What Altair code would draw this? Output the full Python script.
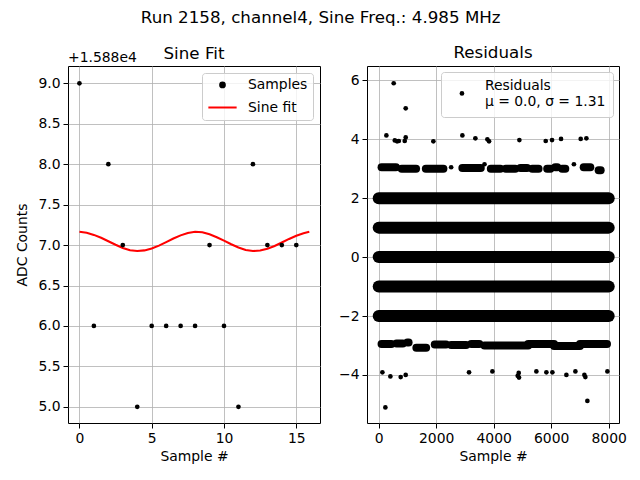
import altair as alt
import pandas as pd

FONT = "DejaVu Sans"

# ---------------- data ----------------
SUPTITLE = "Run 2158, channel4, Sine Freq.: 4.985 MHz"
OFFSET = 15880
OFFSET_LABEL = "+1.588e4"

sample_idx = list(range(16))
sample_adc = [15889, 15886, 15888, 15887, 15885, 15886, 15886, 15886,
              15886, 15887, 15886, 15885, 15888, 15887, 15887, 15887]

fit_x = [0.0, 0.5, 1.0, 1.5, 2.0, 2.5, 3.0, 3.5, 4.0, 4.5, 5.0, 5.5, 6.0, 6.5,
         7.0, 7.5, 8.0, 8.5, 9.0, 9.5, 10.0, 10.5, 11.0, 11.5, 12.0, 12.5,
         13.0, 13.5, 14.0, 14.5, 15.0, 15.5, 15.9]
fit_rel = [7.164, 7.152, 7.126, 7.090, 7.048, 7.004, 6.965, 6.936, 6.926,
           6.934, 6.958, 6.993, 7.037, 7.081, 7.120, 7.150, 7.165, 7.158,
           7.133, 7.097, 7.055, 7.010, 6.970, 6.939, 6.926, 6.932, 6.955,
           6.989, 7.032, 7.076, 7.116, 7.147, 7.164]

MU = "0.0"
SIGMA = "1.31"

# dense residual bands (integer levels, spanning all samples)
band_level = [-2, -1, 0, 1, 2]
band_start = [0, 0, 0, 0, 0]
band_end = [8000, 8000, 8000, 8000, 8000]

# sparser bands near +3 / -3 (segments of clustered samples)
seg_start = [100, 800, 1640, 2910, 3900, 4420, 4930, 5340, 5860, 6140, 6380, 7130, 7650,
             100, 620, 1000, 1310, 1950, 2520, 3220, 3680, 5200, 6100, 7000]
seg_end = [600, 1300, 2250, 3550, 4230, 4750, 5160, 5560, 5970, 6210, 6490, 7360, 7720,
           440, 840, 1040, 1650, 2340, 3040, 3500, 5200, 6100, 7000, 7940]
seg_y = [3.05, 3.0, 3.0, 3.02, 3.0, 3.0, 3.02, 3.0, 3.0, 3.05, 3.0, 3.05, 2.95,
         -2.95, -2.93, -2.9, -3.08, -2.97, -2.98, -2.95, -3.0, -2.95, -3.02, -2.95]

# isolated residual samples
res_x = [522, 939, 267, 560, 640, 700, 939, 905, 1901, 2910, 3362, 3780, 3838,
         4893, 5809, 6029, 6342, 7026, 7223, 2520, 3680, 6790,
         128, 406, 765, 939, 3142, 3954, 4835, 4870, 4880, 5484, 5832, 6041,
         6528, 6841, 7154, 7188, 7954, 232, 7258]
res_y = [5.9, 5.05, 4.13, 3.96, 3.93, 3.94, 4.06, 3.94, 3.93, 4.13, 4.03, 4.0, 3.93,
         3.97, 3.94, 3.97, 4.01, 4.01, 4.03, 3.05, 3.15, 3.15,
         -3.91, -4.05, -4.07, -4.0, -3.91, -3.88, -4.03, -3.93, -4.09, -3.88, -3.91, -3.91,
         -4.0, -3.88, -4.0, -4.07, -3.88, -5.1, -4.88]

# ---------------- tables ----------------
samples_df = pd.DataFrame({"x": sample_idx, "adc": sample_adc, "series": "Samples"})
fit_df = pd.DataFrame({"x": fit_x, "rel": fit_rel, "series": "Sine fit"})
offset_df = pd.DataFrame({"label": [OFFSET_LABEL]})
band_df = pd.DataFrame({"x0": band_start, "x1": band_end, "y": band_level})
seg_df = pd.DataFrame({"x0": seg_start, "x1": seg_end, "y": seg_y})
res_df = pd.DataFrame({"x": res_x, "y": res_y, "series": "Residuals"})

# ---------------- left panel ----------------
series_dom = ["Samples", "Sine fit"]
legend_left = alt.Legend(
    title=None, orient="top-right", offset=7,
    fillColor="rgba(255,255,255,0.8)", strokeColor="#cccccc", cornerRadius=3,
    padding=5, labelFontSize=13.9, labelFont=FONT, labelColor="black",
    symbolStrokeWidth=2, labelOffset=10, rowPadding=-10,
)
color_l = alt.Color("series:N", scale=alt.Scale(domain=series_dom, range=["black", "red"]), legend=legend_left)
shape_l = alt.Shape("series:N", scale=alt.Scale(domain=series_dom, range=["circle", "stroke"]), legend=legend_left)
size_l = alt.Size("series:N", scale=alt.Scale(domain=series_dom, range=[22, 800]), legend=legend_left)

xL = alt.X("x:Q", scale=alt.Scale(domain=[-0.79, 16.64], nice=False, zero=False),
           axis=alt.Axis(values=[0, 5, 10, 15], title="Sample #", format="d"))
yL = alt.Y("y:Q", scale=alt.Scale(domain=[4.8, 9.214], nice=False, zero=False),
           axis=alt.Axis(values=[5, 5.5, 6, 6.5, 7, 7.5, 8, 8.5, 9], format=".1f",
                         title="ADC Counts", titleX=-46, titleY=178.5, titleAngle=270,
                         titleAlign="center", titleBaseline="middle"))

pts = alt.Chart(samples_df).transform_calculate(
    y=f"datum.adc - {OFFSET}"
).mark_point(filled=True, opacity=1).encode(x=xL, y=yL, color=color_l, shape=shape_l, size=size_l)

fit = alt.Chart(fit_df).transform_calculate(y="datum.rel").mark_line(strokeWidth=2.1).encode(
    x="x:Q", y="y:Q", color=color_l)

off_txt = alt.Chart(offset_df).mark_text(
    align="left", baseline="alphabetic", fontSize=13.9, font=FONT, color="black"
).encode(x=alt.value(0), y=alt.value(-4.5), text="label:N")

left = alt.layer(fit, pts, off_txt).properties(
    width=252, height=357,
    title=alt.TitleParams("Sine Fit", fontSize=16.7, font=FONT, fontWeight="normal", offset=-12.5),
)

# ---------------- right panel ----------------
xR = alt.X("x0:Q", scale=alt.Scale(domain=[-407, 8358], nice=False, zero=False),
           axis=alt.Axis(values=[0, 2000, 4000, 6000, 8000], format="d", title="Sample #"))
yR = alt.Y("y:Q", scale=alt.Scale(domain=[-5.63, 6.485], nice=False, zero=False),
           axis=alt.Axis(values=[-4, -2, 0, 2, 4, 6], format="d", title=None,
                         labelExpr="replace(datum.label, '-', '\u2212')"))

bands = alt.Chart(band_df).mark_rule(color="black", strokeWidth=12, strokeCap="round").encode(
    x=xR, x2="x1:Q", y=yR)
segs = alt.Chart(seg_df).mark_rule(color="black", strokeWidth=8, strokeCap="round").encode(
    x="x0:Q", x2="x1:Q", y="y:Q")

legend_right = alt.Legend(
    title=" ", titleFontSize=4, titlePadding=3.5, orient="top-right", offset=6,
    fillColor="rgba(255,255,255,0.8)", strokeColor="#cccccc", cornerRadius=3,
    padding=7, labelFontSize=13.9, labelFont=FONT, labelColor="black",
    labelOffset=16, symbolOffset=7, symbolSize=22, labelBaseline="bottom",
    labelExpr=f"['Residuals', '\u03bc = {MU}, \u03c3 = {SIGMA}']",
)
res_pts = alt.Chart(res_df).transform_calculate(x0="datum.x").mark_point(
    filled=True, opacity=1, size=22).encode(
    x="x0:Q", y="y:Q",
    color=alt.Color("series:N", scale=alt.Scale(domain=["Residuals"], range=["black"]), legend=legend_right))

right = alt.layer(bands, segs, res_pts).properties(
    width=252, height=357,
    title=alt.TitleParams("Residuals", fontSize=16.7, font=FONT, fontWeight="normal", offset=4.5),
)

chart = alt.hconcat(left, right, spacing=17).resolve_scale(
    color="independent", shape="independent", size="independent", x="independent", y="independent"
).properties(
    title=alt.TitleParams(SUPTITLE, fontSize=16.7, font=FONT, fontWeight="normal", anchor="middle", offset=18),
    padding={"left": 6, "top": 1, "right": 5, "bottom": 5},
).configure_view(
    stroke="black", strokeWidth=1
).configure_axis(
    grid=True, gridColor="#b0b0b0", gridWidth=0.8, domain=False,
    tickColor="black", tickSize=5, tickWidth=1, labelPadding=3,
    labelFontSize=13.9, labelFont=FONT, labelColor="black",
    titleFont=FONT, titleFontSize=13.9, titleFontWeight="normal", titleColor="black", titlePadding=5,
).configure_title(color="black")

chart.save("out.html", embed_options={"renderer": "svg", "actions": False})
